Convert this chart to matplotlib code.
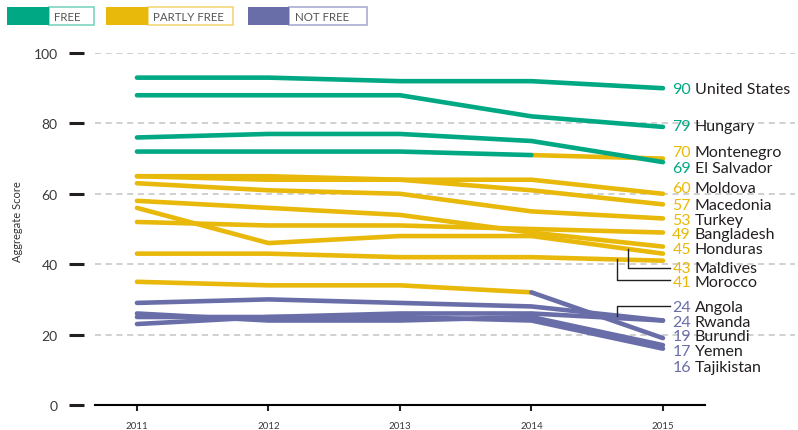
import matplotlib
matplotlib.use("Agg")
import matplotlib.pyplot as plt
from matplotlib.patches import Rectangle
import numpy as np

plt.rcParams['font.family'] = ['Lato', 'DejaVu Sans']

# ---- data -------------------------------------------------------------
years = [2011, 2012, 2013, 2014, 2015]

countries = ["United States", "Hungary", "Montenegro", "El Salvador",
             "Moldova", "Macedonia", "Turkey", "Bangladesh", "Honduras",
             "Maldives", "Morocco", "Angola", "Rwanda", "Burundi",
             "Yemen", "Tajikistan"]

scores = {
    "United States": [93, 93, 92, 92, 90],
    "Hungary":       [88, 88, 88, 82, 79],
    "Montenegro":    [72, 72, 72, 71, 70],
    "El Salvador":   [76, 77, 77, 75, 69],
    "Moldova":       [65, 65, 64, 64, 60],
    "Macedonia":     [65, 64, 64, 61, 57],
    "Turkey":        [63, 61, 60, 55, 53],
    "Bangladesh":    [52, 51, 51, 50, 49],
    "Honduras":      [58, 56, 54, 49, 45],
    "Maldives":      [56, 46, 48, 48, 43],
    "Morocco":       [43, 43, 42, 42, 41],
    "Angola":        [29, 30, 29, 28, 24],
    "Rwanda":        [25, 25, 26, 26, 24],
    "Burundi":       [35, 34, 34, 32, 19],
    "Yemen":         [26, 24, 24, 25, 17],
    "Tajikistan":    [23, 25, 25, 24, 16],
}

# F = free, P = partly free, N = not free (per year)
status = {
    "United States": "FFFFF",
    "Hungary":       "FFFFF",
    "Montenegro":    "FFFFP",
    "El Salvador":   "FFFFF",
    "Moldova":       "PPPPP",
    "Macedonia":     "PPPPP",
    "Turkey":        "PPPPP",
    "Bangladesh":    "PPPPP",
    "Honduras":      "PPPPP",
    "Maldives":      "PPPPP",
    "Morocco":       "PPPPP",
    "Angola":        "NNNNN",
    "Rwanda":        "NNNNN",
    "Burundi":       "PPPPN",
    "Yemen":         "NNNNN",
    "Tajikistan":    "NNNNN",
}

status_names = {"F": "FREE", "P": "PARTLY FREE", "N": "NOT FREE"}
y_ticks = [0, 20, 40, 60, 80, 100]

# ---- styling / layout -------------------------------------------------
colors = {"F": "#00a884", "P": "#e8b80a", "N": "#6a6ea8"}
border_colors = {"F": "#7fd3c0", "P": "#f2d778", "N": "#a9acd0"}
text_dark = "#231f20"

# vertical positions of the end labels (data units)
label_y = {
    "United States": 90.3, "Hungary": 79.8, "Montenegro": 72.5,
    "El Salvador": 67.8, "Moldova": 62.1, "Macedonia": 57.4,
    "Turkey": 53.1, "Bangladesh": 49.1, "Honduras": 44.8,
    "Maldives": 39.4, "Morocco": 35.5, "Angola": 28.4, "Rwanda": 24.1,
    "Burundi": 20.2, "Yemen": 15.9, "Tajikistan": 11.2,
}
# elbow connectors: country -> (x where it leaves the line, y of elbow)
connectors = {
    "Maldives": (2014.736, 38.9),
    "Morocco": (2014.652, 35.6),
    "Angola": (2014.652, 28.2),
}

W, H = 798, 431
fig = plt.figure(figsize=(W / 100, H / 100), dpi=100)
ax = fig.add_axes([95 / W, 25 / H, 700 / W, 352 / H])
ax.set_xlim(2010.681, 2016.004)
ax.set_ylim(0, 100)

# dashed grid
for t in y_ticks[1:]:
    ax.axhline(t, color="#c4c4c4", lw=1.1, ls=(0, (4, 3)), zorder=0)

# country lines, split into runs of equal status (coloured by end status)
for name in countries:
    vals = scores[name]
    st = status[name]
    seg_start = 0
    for i in range(1, len(years)):
        last = (i == len(years) - 1) or (st[i + 1] != st[i])
        if last:
            xs = years[seg_start:i + 1]
            ys = vals[seg_start:i + 1]
            ax.plot(xs, ys, color=colors[st[i]], lw=3.3,
                    solid_capstyle="round", solid_joinstyle="round",
                    zorder=3 if st[i] == "F" else 2, clip_on=False)
            seg_start = i

# end labels
for name in countries:
    final = scores[name][-1]
    y = label_y[name] - 1.65
    ax.text(2015.213, y, f"{final}", ha="right", va="baseline",
            fontsize=11.5, color=colors[status[name][-1]], clip_on=False)
    ax.text(2015.243, y, name, ha="left", va="baseline",
            fontsize=11.5, color=text_dark, clip_on=False)

# elbow connectors
for name, (cx, cy) in connectors.items():
    start = np.interp(cx, years, scores[name])
    ax.plot([cx, cx, 2015.053], [start, cy, cy], color="#231f20", lw=1.0,
            zorder=4, clip_on=False)

# axes styling
for s in ["top", "right"]:
    ax.spines[s].set_visible(False)
ax.spines["left"].set_position(("outward", 8))
ax.spines["left"].set_visible(False)
ax.spines["bottom"].set_linewidth(1.5)
ax.spines["bottom"].set_bounds(2010.681, 2015.32)

ax.set_yticks(y_ticks)
ax.set_yticklabels([str(t) for t in y_ticks])
ax.tick_params(axis="y", length=11, width=2.2, color="#231f20", pad=8,
               labelsize=10, labelcolor="#3a3a3a")
ax.set_xticks(years)
ax.set_xticklabels([str(y) for y in years])
ax.tick_params(axis="x", length=4.5, width=1.5, color="#231f20", pad=7,
               labelsize=7, labelcolor="#3a3a3a")

fig.text(18 / W, 1 - 222 / H, "Aggregate Score", rotation=90,
         ha="center", va="center", fontsize=8, color="#333333")

# legend boxes
legend_boxes = [("F", 7.3, 48.7, 93.7), ("P", 106, 147.7, 232.7),
                ("N", 248, 289.3, 366.7)]
for key, x0, x1, x2 in legend_boxes:
    top, bot = 8.3, 25.7
    fig.add_artist(Rectangle((x1 / W, 1 - bot / H), (x2 - x1) / W,
                             (bot - top) / H, transform=fig.transFigure,
                             facecolor="white", edgecolor=border_colors[key],
                             lw=1.2))
    fig.add_artist(Rectangle((x0 / W, 1 - bot / H), (x1 - x0) / W,
                             (bot - top) / H, transform=fig.transFigure,
                             facecolor=colors[key], edgecolor="none"))
    fig.text((x1 + 5.5) / W, 1 - 17.3 / H, status_names[key],
             ha="left", va="center", fontsize=8.3, color="#555555")

fig.savefig("out.png", dpi=100)
